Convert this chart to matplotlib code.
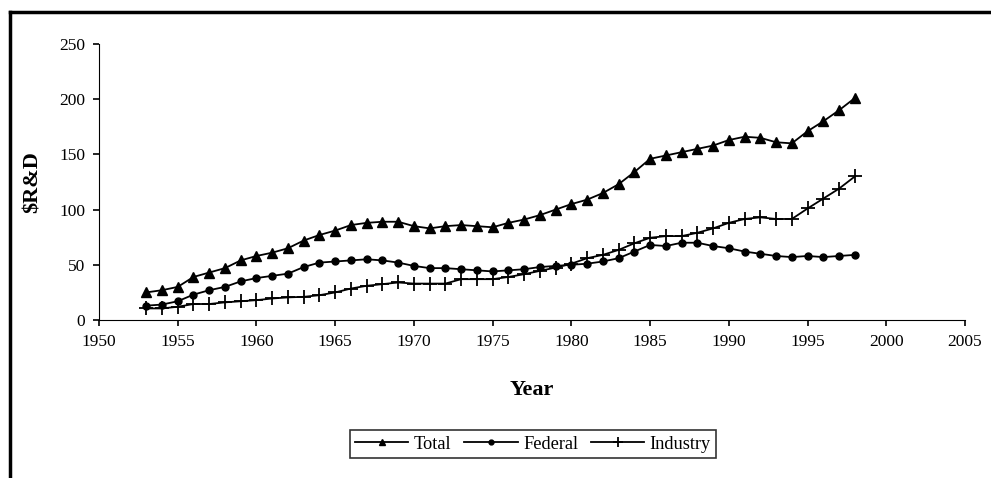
import numpy as np
import matplotlib.pyplot as plt
from matplotlib.lines import Line2D

years = list(range(1953, 1999))

total = [25, 27, 30, 39, 43, 47, 54, 58, 61, 65, 72, 77, 81, 86, 88, 89, 89,
         85, 83, 85, 86, 85, 84, 88, 91, 95, 100, 105, 109, 115, 123, 134,
         146, 149, 152, 155, 158, 163, 166, 165, 161, 160, 171, 180, 190, 201]
federal = [13, 14, 17, 23, 27, 30, 35, 38, 40, 42, 48, 52, 53, 54, 55, 54, 52,
           49, 47, 47, 46, 45, 44, 45, 46, 48, 49, 50, 51, 53, 56, 62,
           68, 67, 70, 70, 67, 65, 62, 60, 58, 57, 58, 57, 58, 59]
industry = [10.5, 10.5, 12, 14.5, 14.5, 16, 17, 18, 19.5, 20.5, 21, 22.5, 25,
            28.5, 31, 32.5, 34, 33, 33, 33, 37, 37, 37, 39, 41.5, 44.5, 47.5,
            51, 56, 59, 63.5, 69.5, 74.5, 76, 76, 79, 83, 88, 91.5, 93, 91.5,
            91.5, 101, 110, 119, 130]

plt.rcParams['font.family'] = 'Liberation Serif'

fig = plt.figure(figsize=(9.91, 4.78), dpi=100)
ax = fig.add_axes([0.0999, 0.3305, 0.8739, 0.5775])

ax.plot(years, total, color='black', lw=1.3, marker='^', ms=6.5, label='Total')
ax.plot(years, federal, color='black', lw=1.3, marker='o', ms=5, label='Federal')
ax.plot(years, industry, color='black', lw=1.3, marker='+', ms=10, mew=1.3,
        label='Industry')

ax.set_xlim(1950, 2005)
ax.set_ylim(0, 250)
ax.set_xticks(range(1950, 2006, 5))
ax.set_yticks(range(0, 251, 50))
ax.spines['top'].set_visible(False)
ax.spines['right'].set_visible(False)
ax.tick_params(direction='out', length=4, width=1.2, labelsize=12.5, pad=6)
ax.set_xlabel('Year', fontsize=16, fontweight='bold', labelpad=22)
ax.set_ylabel('$R&D', fontsize=16, fontweight='bold', labelpad=12)

leg = fig.legend(loc='center', bbox_to_anchor=(0.538, 0.071), ncol=3,
                 fontsize=13.2, frameon=True, fancybox=False, edgecolor='black',
                 handlelength=2.9, handletextpad=0.3, columnspacing=0.7,
                 borderpad=0.3, markerscale=0.7)
leg.get_frame().set_linewidth(1.2)

# outer frame (top and left only)
fig.add_artist(Line2D([0.0101, 0.0101], [0, 0.974], color='black', lw=2.5,
                      transform=fig.transFigure))
fig.add_artist(Line2D([0.0101, 1.0], [0.974, 0.974], color='black', lw=2.5,
                      transform=fig.transFigure))

plt.savefig('out.png', dpi=100)
